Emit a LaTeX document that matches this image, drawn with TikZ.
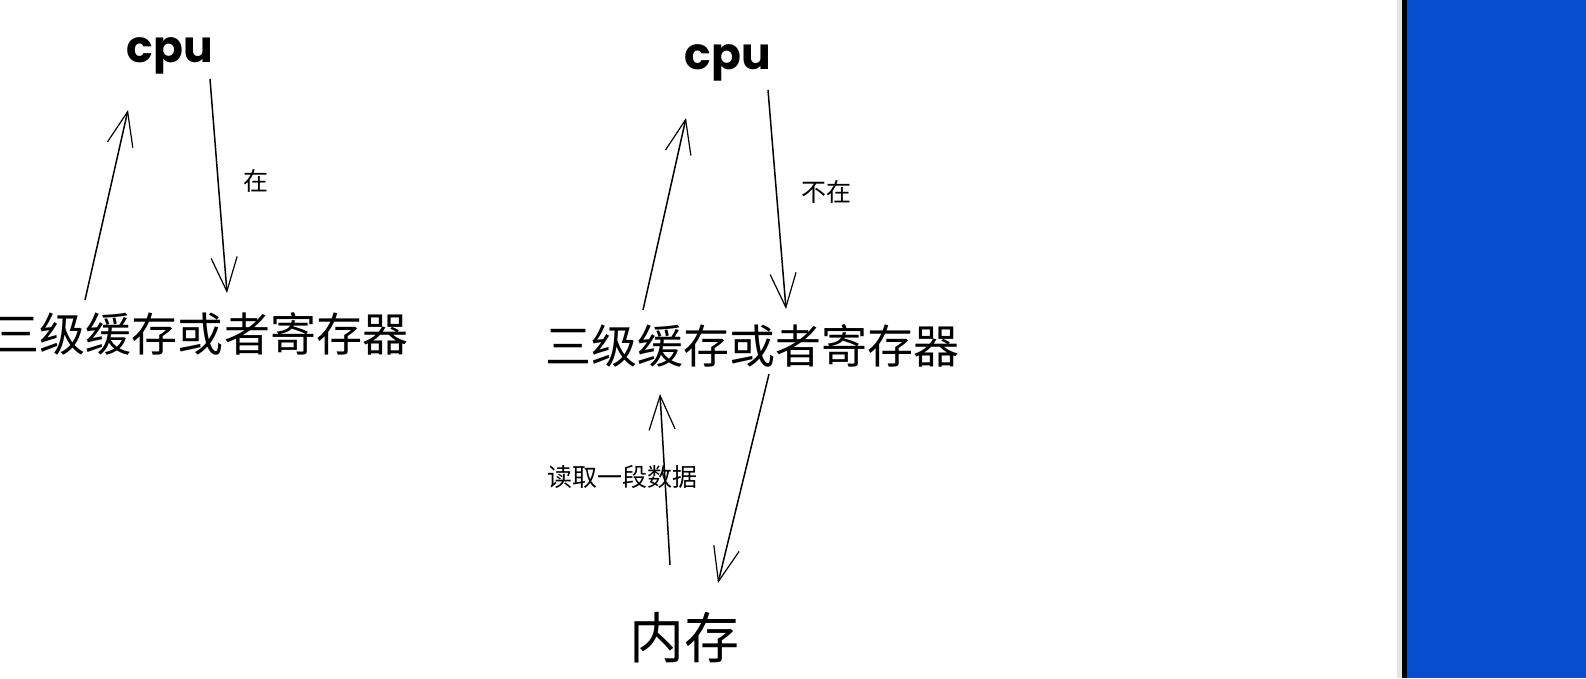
\documentclass[tikz,border=0pt]{standalone}
\usepackage{fontspec}
\newfontfamily\cjk{Noto Sans CJK SC}
\newfontfamily\cpufont{Poppins}
\usetikzlibrary{arrows.meta}
\definecolor{winblue}{RGB}{6,78,206}
\definecolor{edgegray}{RGB}{228,228,228}
\tikzset{
  big/.style={inner sep=0pt, anchor=center, font=\cjk\fontsize{46}{52}\selectfont},
  small/.style={inner sep=0pt, anchor=center, font=\cjk\fontsize{25}{29}\selectfont},
  cpulabel/.style={inner sep=0pt, anchor=base, font=\cpufont\bfseries\fontsize{44}{50}\selectfont},
  sketch/.style={line width=1.5pt, -{Straight Barb[length=34pt,width=26pt,line width=1.2pt]}}
}
\begin{document}
\begin{tikzpicture}[x=1pt,y=-1pt]
\useasboundingbox (0,0) rectangle (1586,678);
\fill[white] (0,0) rectangle (1586,678);
\fill[edgegray] (1397,0) rectangle (1402,678);
\fill[black] (1402,0) rectangle (1407,678);
\fill[winblue] (1407,0) rectangle (1586,678);

% left group
\node[cpulabel] (cpuL) at (170,62) {cpu};
\node[big] (regL) at (201,334) {三级缓存或者寄存器};
\node[small] (inL) at (256,181) {在};
\coordinate (aL1s) at (85,300);
\coordinate (aL1e) at (128,110);
\coordinate (aL2s) at (210,79);
\coordinate (aL2e) at (227,293);
\draw[sketch] (aL1s) -- (aL1e);
\draw[sketch] (aL2s) -- (aL2e);

% right group
\node[cpulabel] (cpuR) at (728,69) {cpu};
\node[big] (regR) at (752,346) {三级缓存或者寄存器};
\node[small] (notin) at (826,192) {不在};
\node[big,font=\cjk\fontsize{55}{60}\selectfont] (mem) at (684,638) {内存};
\node[small] (read) at (622,477) {读取一段数据};
\coordinate (aR1s) at (643,310);
\coordinate (aR1e) at (686,118);
\coordinate (aR2s) at (768,90);
\coordinate (aR2e) at (786,309);
\coordinate (aR3s) at (670,565);
\coordinate (aR3e) at (660,394);
\coordinate (aR4s) at (769,374);
\coordinate (aR4e) at (718,583);
\draw[sketch] (aR1s) -- (aR1e);
\draw[sketch] (aR2s) -- (aR2e);
\draw[sketch] (aR3s) -- (aR3e);
\draw[sketch] (aR4s) -- (aR4e);
\end{tikzpicture}
\end{document}
